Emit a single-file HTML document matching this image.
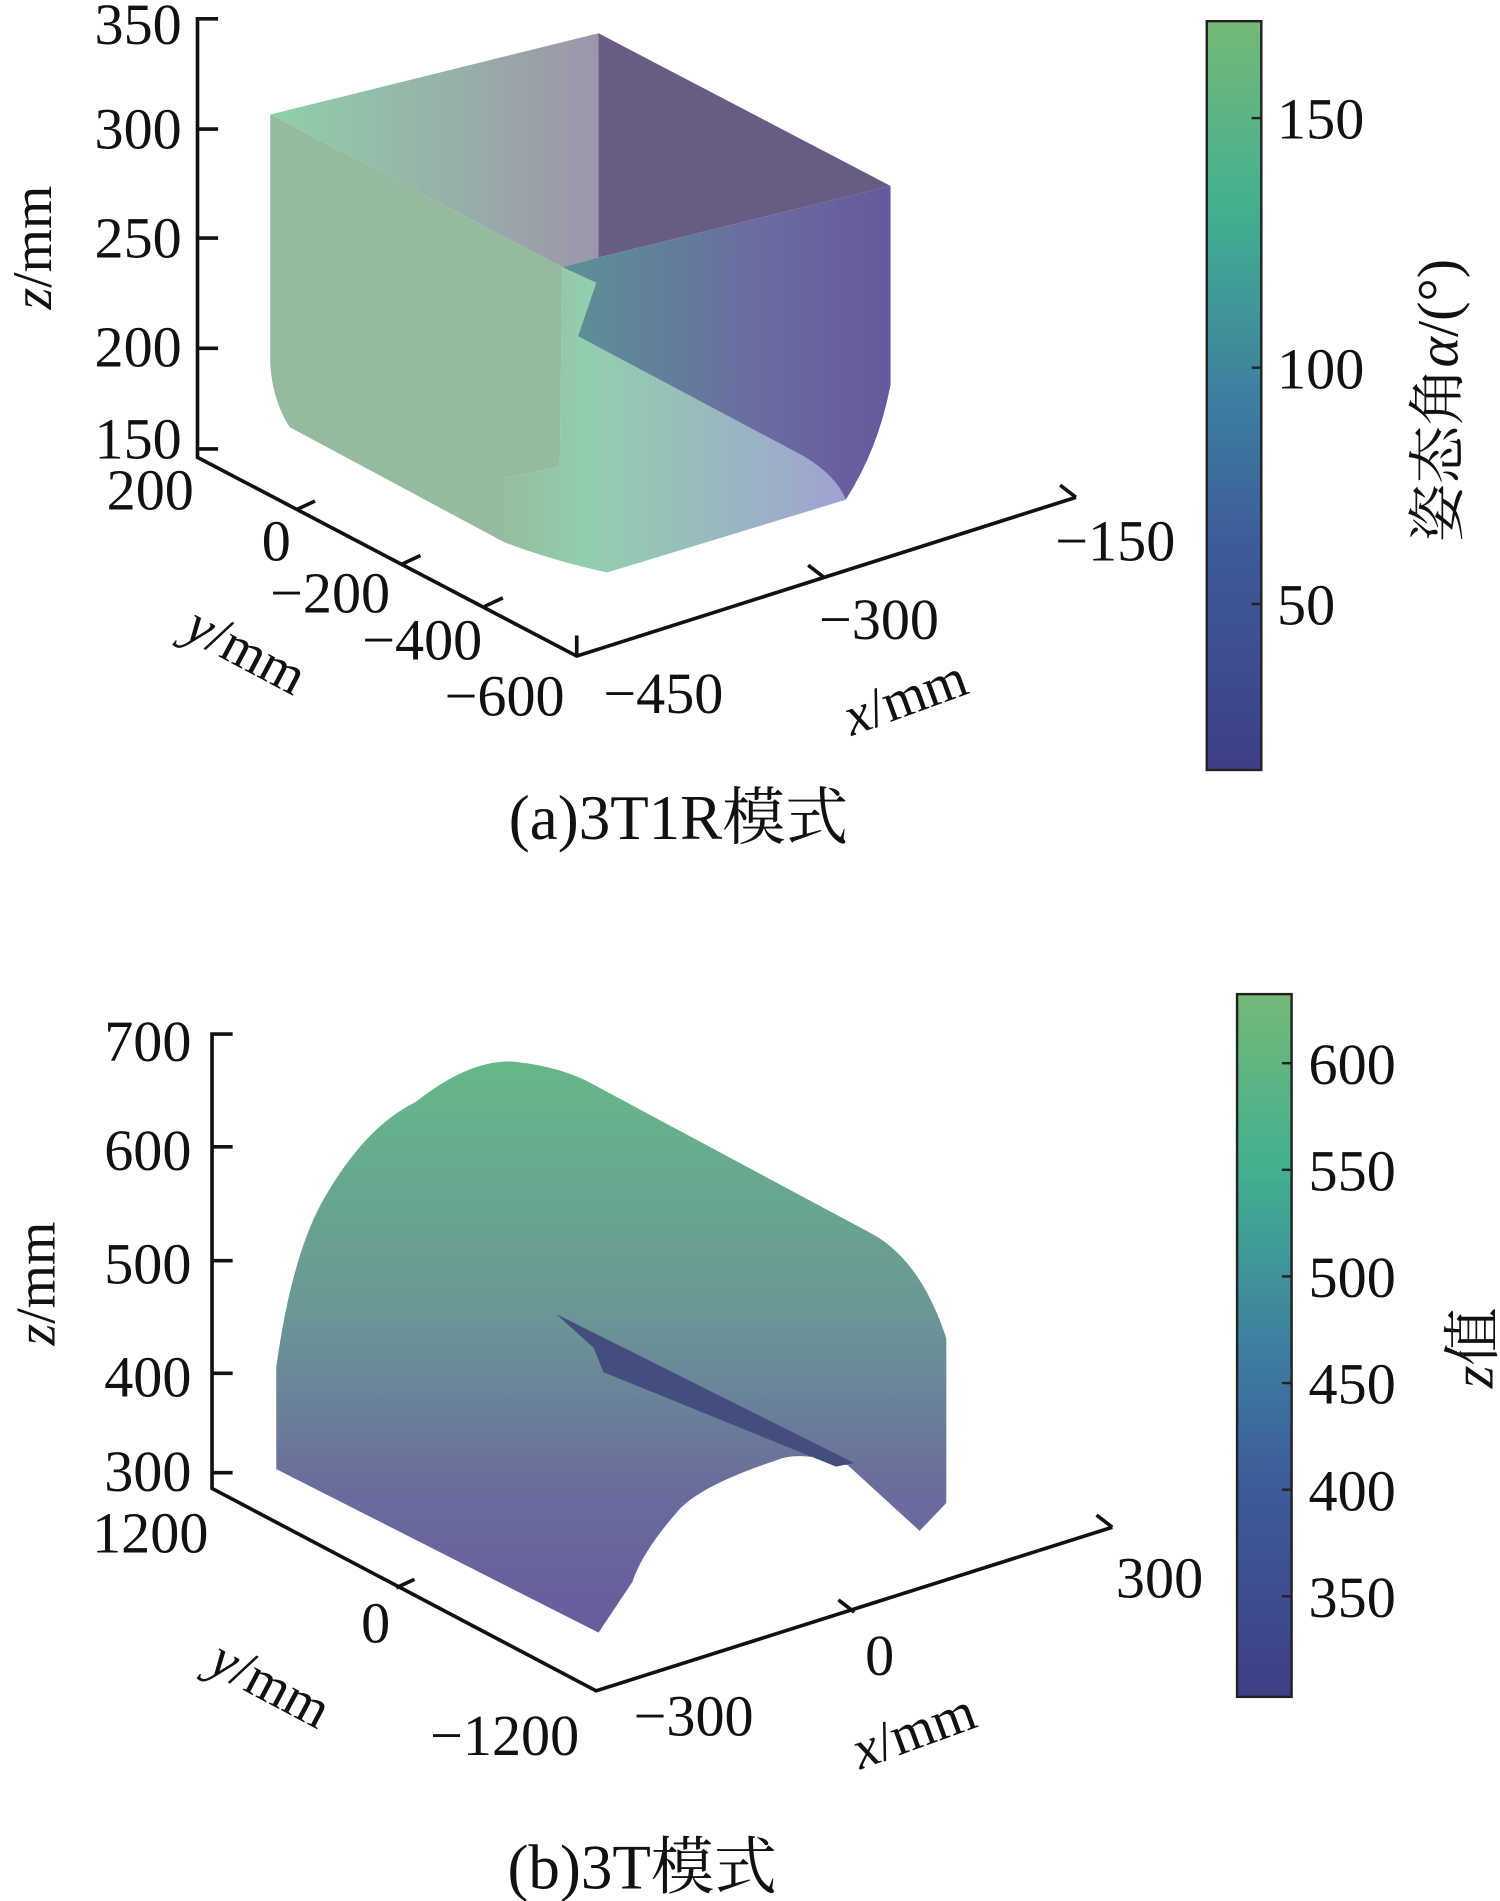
<!DOCTYPE html>
<html><head><meta charset="utf-8"><style>
html,body{margin:0;padding:0;background:#fff;}
svg{display:block}
text{font-family:"Liberation Serif","Noto Serif CJK SC",serif;fill:#111}
</style></head><body>
<svg width="1500" height="1901" viewBox="0 0 1238 1568" xmlns="http://www.w3.org/2000/svg">
<defs>
<linearGradient id="cb" x1="0" y1="1" x2="0" y2="0">
<stop offset="0" stop-color="#3e3f86"/><stop offset="0.3" stop-color="#3d5b9a"/><stop offset="0.5" stop-color="#3d7fa0"/><stop offset="0.75" stop-color="#43b08f"/><stop offset="1" stop-color="#74b978"/>
</linearGradient>
<linearGradient id="topg" x1="0" y1="0" x2="1" y2="0">
<stop offset="0" stop-color="#8fd0a8"/><stop offset="1" stop-color="#9d96aa"/>
</linearGradient>
<linearGradient id="rightg" x1="0" y1="0" x2="1" y2="0">
<stop offset="0" stop-color="#5a9296"/><stop offset="0.6" stop-color="#6a6ca0"/><stop offset="1" stop-color="#66599c"/>
</linearGradient>
<linearGradient id="botg" x1="0" y1="0" x2="1" y2="0">
<stop offset="0" stop-color="#94bf9e"/><stop offset="0.25" stop-color="#92cfae"/><stop offset="1" stop-color="#a0a2d2"/>
</linearGradient>
<linearGradient id="cyl" x1="0" y1="0" x2="0" y2="1">
<stop offset="0" stop-color="#66b888"/><stop offset="0.45" stop-color="#6a9696"/><stop offset="0.75" stop-color="#6a6c9c"/><stop offset="1" stop-color="#675c9c"/>
</linearGradient>
</defs>

<polygon points="223,94 494,27 494,212 464,220" fill="url(#topg)"/>
<polygon points="494,27 735,153 494,212" fill="#685c84"/>
<path d="M464,220 L494,212 L735,153 L735,317 Q725,370 698,412 Q690,392 663,376 L477,277 L492,233 Z" fill="url(#rightg)"/>
<path d="M464,220 L492,233 L477,277 L663,376 Q690,392 698,412 L501,472 Q455,462 416,447 L416,394 L462,385 Z" fill="url(#botg)"/>
<path d="M223,94 L464,220 L462,385 L416,394 L416,447 L239,352 Q225,330 223,300 Z" fill="#96ba9e"/>

<g stroke="#111" stroke-width="3" fill="none">
<polyline points="180,15 163,15 163,377 476,541 888,410"/>
<line x1="163" y1="106" x2="180" y2="106"/><line x1="163" y1="196" x2="180" y2="196"/>
<line x1="163" y1="287" x2="180" y2="287"/><line x1="163" y1="370" x2="180" y2="370"/>
<line x1="476" y1="541" x2="476" y2="524"/><line x1="680" y1="476" x2="667" y2="466"/><line x1="888" y1="410" x2="875" y2="400"/>
<line x1="245" y1="420" x2="260" y2="413"/><line x1="332" y1="465" x2="347" y2="458"/><line x1="400" y1="500" x2="415" y2="493"/>
</g>
<g font-size="48" text-anchor="end">
<text x="150" y="36">350</text><text x="150" y="122">300</text><text x="150" y="212">250</text>
<text x="150" y="302">200</text><text x="150" y="378">150</text>
<text x="160" y="420">200</text><text x="240" y="462">0</text><text x="322" y="505">−200</text>
<text x="398" y="544">−400</text><text x="466" y="590">−600</text>
<text x="597" y="588">−450</text><text x="775" y="527">−300</text><text x="970" y="462">−150</text>
</g>
<text font-size="46" transform="translate(42,255) rotate(-90)"><tspan font-style="italic">z</tspan>/mm</text>
<text font-size="46" transform="translate(150,525) rotate(28)"><tspan font-style="italic">y</tspan>/mm</text>
<text font-size="46" transform="translate(703,607) rotate(-20)"><tspan font-style="italic">x</tspan>/mm</text>

<rect x="996" y="17" width="45" height="618" fill="url(#cb)" stroke="#222" stroke-width="2"/>
<g stroke="#222" stroke-width="2"><line x1="1033" y1="97" x2="1041" y2="97"/><line x1="1033" y1="303" x2="1041" y2="303"/><line x1="1033" y1="498" x2="1041" y2="498"/></g>
<g font-size="48"><text x="1054" y="114">150</text><text x="1054" y="320">100</text><text x="1054" y="515">50</text></g>
<text font-size="48" text-anchor="middle" transform="translate(1203,330) rotate(-90)">姿态角<tspan font-style="italic">α</tspan>/(°)</text>

<text font-size="52" x="560" y="692" text-anchor="middle">(a)3T1R模式</text>

<path d="M228,1212 L228,1128 Q240,1040 265,993 Q300,930 343,909 Q390,872 427,876 Q460,880 483,891 L720,1018 Q760,1040 781,1104 L781,1240 L759,1263 L700,1209 Q660,1196 640,1205 Q580,1225 561,1245 Q530,1280 522,1305 L494,1347 Z" fill="url(#cyl)"/>
<polygon points="459,1084 705,1207 690,1210 498,1132 490,1112" fill="#434e7e"/>

<g stroke="#111" stroke-width="3" fill="none">
<polyline points="192,853 175,853 175,1228 492,1395 918,1260"/>
<line x1="175" y1="946" x2="192" y2="946"/><line x1="175" y1="1040" x2="192" y2="1040"/>
<line x1="175" y1="1133" x2="192" y2="1133"/><line x1="175" y1="1215" x2="192" y2="1215"/>
<line x1="327" y1="1310" x2="342" y2="1303"/>
<line x1="705" y1="1330" x2="692" y2="1320"/><line x1="918" y1="1260" x2="905" y2="1250"/>
</g>
<g font-size="48" text-anchor="end">
<text x="158" y="875">700</text><text x="158" y="965">600</text><text x="158" y="1059">500</text>
<text x="158" y="1152">400</text><text x="158" y="1230">300</text>
<text x="172" y="1281">1200</text><text x="322" y="1355">0</text><text x="478" y="1448">−1200</text>
<text x="622" y="1432">−300</text><text x="738" y="1382">0</text><text x="993" y="1318">300</text>
</g>
<text font-size="46" transform="translate(45,1110) rotate(-90)"><tspan font-style="italic">z</tspan>/mm</text>
<text font-size="46" transform="translate(170,1378) rotate(28)"><tspan font-style="italic">y</tspan>/mm</text>
<text font-size="46" transform="translate(710,1460) rotate(-20)"><tspan font-style="italic">x</tspan>/mm</text>

<rect x="1021" y="820" width="45" height="580" fill="url(#cb)" stroke="#222" stroke-width="2"/>
<g stroke="#222" stroke-width="2"><line x1="1058" y1="877" x2="1066" y2="877"/><line x1="1058" y1="965" x2="1066" y2="965"/><line x1="1058" y1="1053" x2="1066" y2="1053"/><line x1="1058" y1="1141" x2="1066" y2="1141"/><line x1="1058" y1="1229" x2="1066" y2="1229"/><line x1="1058" y1="1317" x2="1066" y2="1317"/></g>
<g font-size="48"><text x="1080" y="894">600</text><text x="1080" y="982">550</text><text x="1080" y="1070">500</text><text x="1080" y="1158">450</text><text x="1080" y="1246">400</text><text x="1080" y="1334">350</text></g>
<text font-size="48" text-anchor="middle" transform="translate(1232,1112) rotate(-90)"><tspan font-style="italic">z</tspan>值</text>

<text font-size="52" x="530" y="1558" text-anchor="middle">(b)3T模式</text>
</svg>
</body></html>
